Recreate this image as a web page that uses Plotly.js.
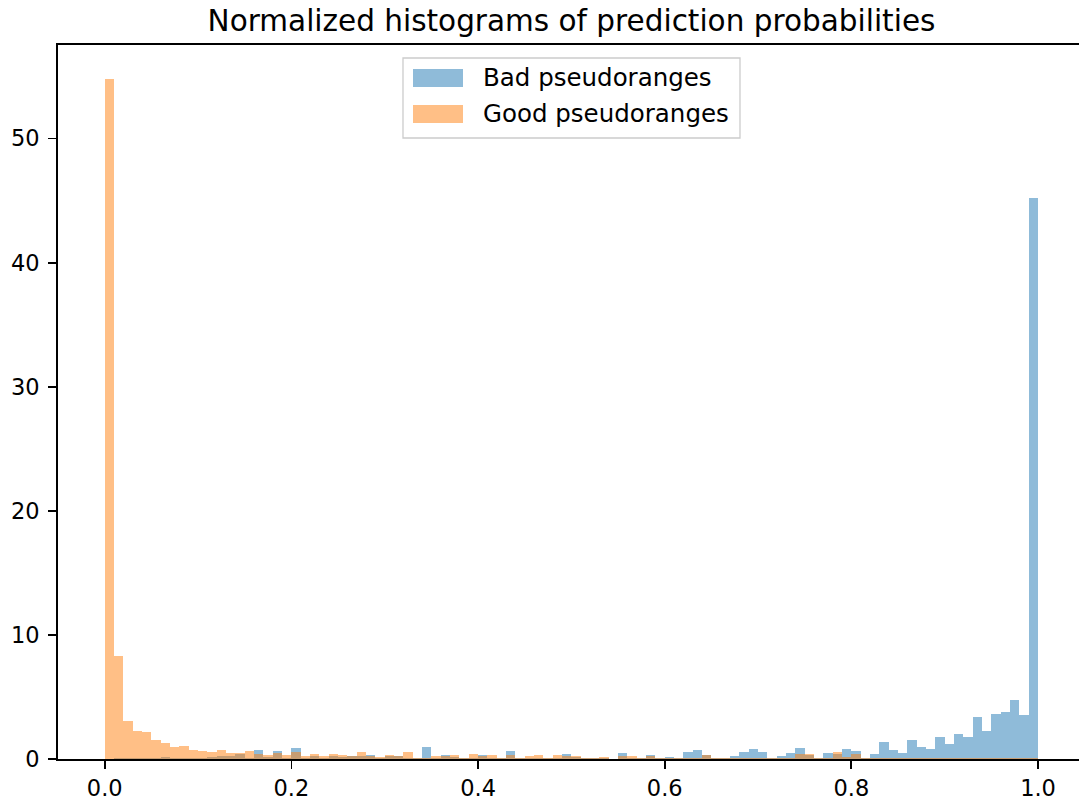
<!DOCTYPE html>
<html>
<head>
<meta charset="utf-8">
<script src="https://cdn.plot.ly/plotly-3.0.1.min.js"></script>
<style>
  html, body { margin: 0; padding: 0; background: #ffffff; }
  #chart { width: 1079px; height: 800px; }
</style>
</head>
<body>
<div id="chart"></div>
<script>
// Histogram layout: 100 equal bins covering [0, 1]
const binStart = 0.0;
const binWidth = 0.01;

// Normalized density per bin, classifier output for bad pseudoranges
const badDensity = [
  0.00, 0.05, 0.08, 0.08, 0.05, 0.05, 0.16, 0.08, 0.10, 0.08,
  0.08, 0.16, 0.27, 0.24, 0.40, 0.10, 0.75, 0.16, 0.62, 0.10,
  0.89, 0.08, 0.24, 0.08, 0.22, 0.16, 0.27, 0.24, 0.35, 0.05,
  0.27, 0.27, 0.10, 0.10, 0.97, 0.05, 0.32, 0.16, 0.10, 0.05,
  0.30, 0.05, 0.08, 0.67, 0.05, 0.05, 0.05, 0.05, 0.10, 0.40,
  0.16, 0.05, 0.05, 0.05, 0.03, 0.48, 0.10, 0.10, 0.35, 0.05,
  0.19, 0.05, 0.54, 0.75, 0.32, 0.08, 0.08, 0.27, 0.54, 0.78,
  0.57, 0.05, 0.27, 0.48, 0.86, 0.30, 0.10, 0.48, 0.40, 0.81,
  0.67, 0.10, 0.40, 1.35, 0.75, 0.46, 1.56, 0.94, 0.81, 1.75,
  1.24, 1.99, 1.78, 3.42, 2.23, 3.63, 3.82, 4.79, 3.55, 45.2
];

// Normalized density per bin, classifier output for good pseudoranges
const goodDensity = [
  54.8, 8.30, 3.07, 2.29, 2.18, 1.51, 1.29, 0.97, 1.05, 0.75,
  0.65, 0.59, 0.70, 0.51, 0.46, 0.65, 0.43, 0.35, 0.48, 0.32,
  0.57, 0.24, 0.40, 0.24, 0.38, 0.32, 0.27, 0.54, 0.27, 0.19,
  0.32, 0.24, 0.54, 0.10, 0.05, 0.24, 0.22, 0.32, 0.10, 0.40,
  0.22, 0.32, 0.08, 0.32, 0.05, 0.24, 0.32, 0.05, 0.32, 0.22,
  0.24, 0.05, 0.10, 0.16, 0.03, 0.22, 0.24, 0.10, 0.27, 0.05,
  0.05, 0.05, 0.10, 0.05, 0.32, 0.08, 0.08, 0.05, 0.05, 0.10,
  0.05, 0.05, 0.05, 0.10, 0.38, 0.38, 0.10, 0.10, 0.57, 0.20,
  0.38, 0.08, 0.10, 0.05, 0.05, 0.05, 0.10, 0.05, 0.08, 0.10,
  0.05, 0.05, 0.10, 0.08, 0.05, 0.10, 0.08, 0.05, 0.05, 0.10
];

const seriesNames = ["Bad pseudoranges", "Good pseudoranges"];
const seriesColors = ["rgba(31,119,180,0.5)", "rgba(255,127,14,0.5)"];

const xTickVals = [0.0, 0.2, 0.4, 0.6, 0.8, 1.0];
const xTickText = ["0.0", "0.2", "0.4", "0.6", "0.8", "1.0"];
const yTickVals = [0, 10, 20, 30, 40, 50];
const yTickText = ["0", "10", "20", "30", "40", "50"];

const titleText = "Normalized histograms of prediction probabilities";

const W = 1079, H = 800;
const M = { l: 58, r: 0, t: 45, b: 41 };
const FONT = "DejaVu Sans, Liberation Sans, sans-serif";

function makeBars(values, name, color) {
  return {
    type: "bar",
    name: name,
    x0: binStart + binWidth / 2,
    dx: binWidth,
    y: values,
    width: binWidth,
    marker: { color: color, line: { width: 0 } },
    hoverinfo: "skip",
    showlegend: false
  };
}

const traces = [
  makeBars(badDensity, seriesNames[0], seriesColors[0]),
  makeBars(goodDensity, seriesNames[1], seriesColors[1])
];

// pixel -> paper helpers for the legend box
const plotW = W - M.l - M.r, plotH = H - M.t - M.b;
const px = v => (v - M.l) / plotW;
const py = v => (H - M.b - v) / plotH;

const legendShapes = [
  { type: "rect", xref: "paper", yref: "paper",
    x0: px(403), x1: px(740), y0: py(138), y1: py(58),
    fillcolor: "rgba(255,255,255,0.8)", line: { color: "rgba(204,204,204,1)", width: 1.3 } },
  { type: "rect", xref: "paper", yref: "paper",
    x0: px(413), x1: px(463), y0: py(87), y1: py(69),
    fillcolor: seriesColors[0], line: { width: 0 } },
  { type: "rect", xref: "paper", yref: "paper",
    x0: px(413), x1: px(463), y0: py(123), y1: py(105),
    fillcolor: seriesColors[1], line: { width: 0 } }
];

const legendLabels = [
  { xref: "paper", yref: "paper", x: px(481), y: py(78), xanchor: "left", yanchor: "middle",
    text: seriesNames[0], showarrow: false, font: { family: FONT, size: 24.5, color: "#000" } },
  { xref: "paper", yref: "paper", x: px(481), y: py(114), xanchor: "left", yanchor: "middle",
    text: seriesNames[1], showarrow: false, font: { family: FONT, size: 24.5, color: "#000" } }
];

const axisCommon = {
  showgrid: false,
  zeroline: false,
  showline: true,
  linecolor: "#000",
  linewidth: 1.8,
  ticks: "outside",
  ticklen: 8,
  tickwidth: 1.8,
  tickcolor: "#000",
  tickfont: { family: FONT, size: 22.5, color: "#000" },
  fixedrange: true
};

const layout = {
  width: W,
  height: H,
  margin: M,
  paper_bgcolor: "#ffffff",
  plot_bgcolor: "#ffffff",
  barmode: "overlay",
  bargap: 0,
  showlegend: false,
  title: {
    text: titleText,
    font: { family: FONT, size: 29.5, color: "#000" },
    xref: "container", x: 571.5 / W, xanchor: "center",
    yref: "container", y: 1 - 21 / H, yanchor: "middle"
  },
  xaxis: Object.assign({}, axisCommon, {
    range: [-0.0501, 1.0439],
    tickvals: xTickVals,
    ticktext: xTickText,
    mirror: true,
    ticklabelstandoff: 0
  }),
  yaxis: Object.assign({}, axisCommon, {
    range: [0, 57.54],
    tickvals: yTickVals,
    ticktext: yTickText,
    mirror: false,
    ticklabelstandoff: 4
  }),
  shapes: legendShapes,
  annotations: legendLabels
};

Plotly.newPlot("chart", traces, layout, { displayModeBar: false, staticPlot: true });
</script>
</body>
</html>
